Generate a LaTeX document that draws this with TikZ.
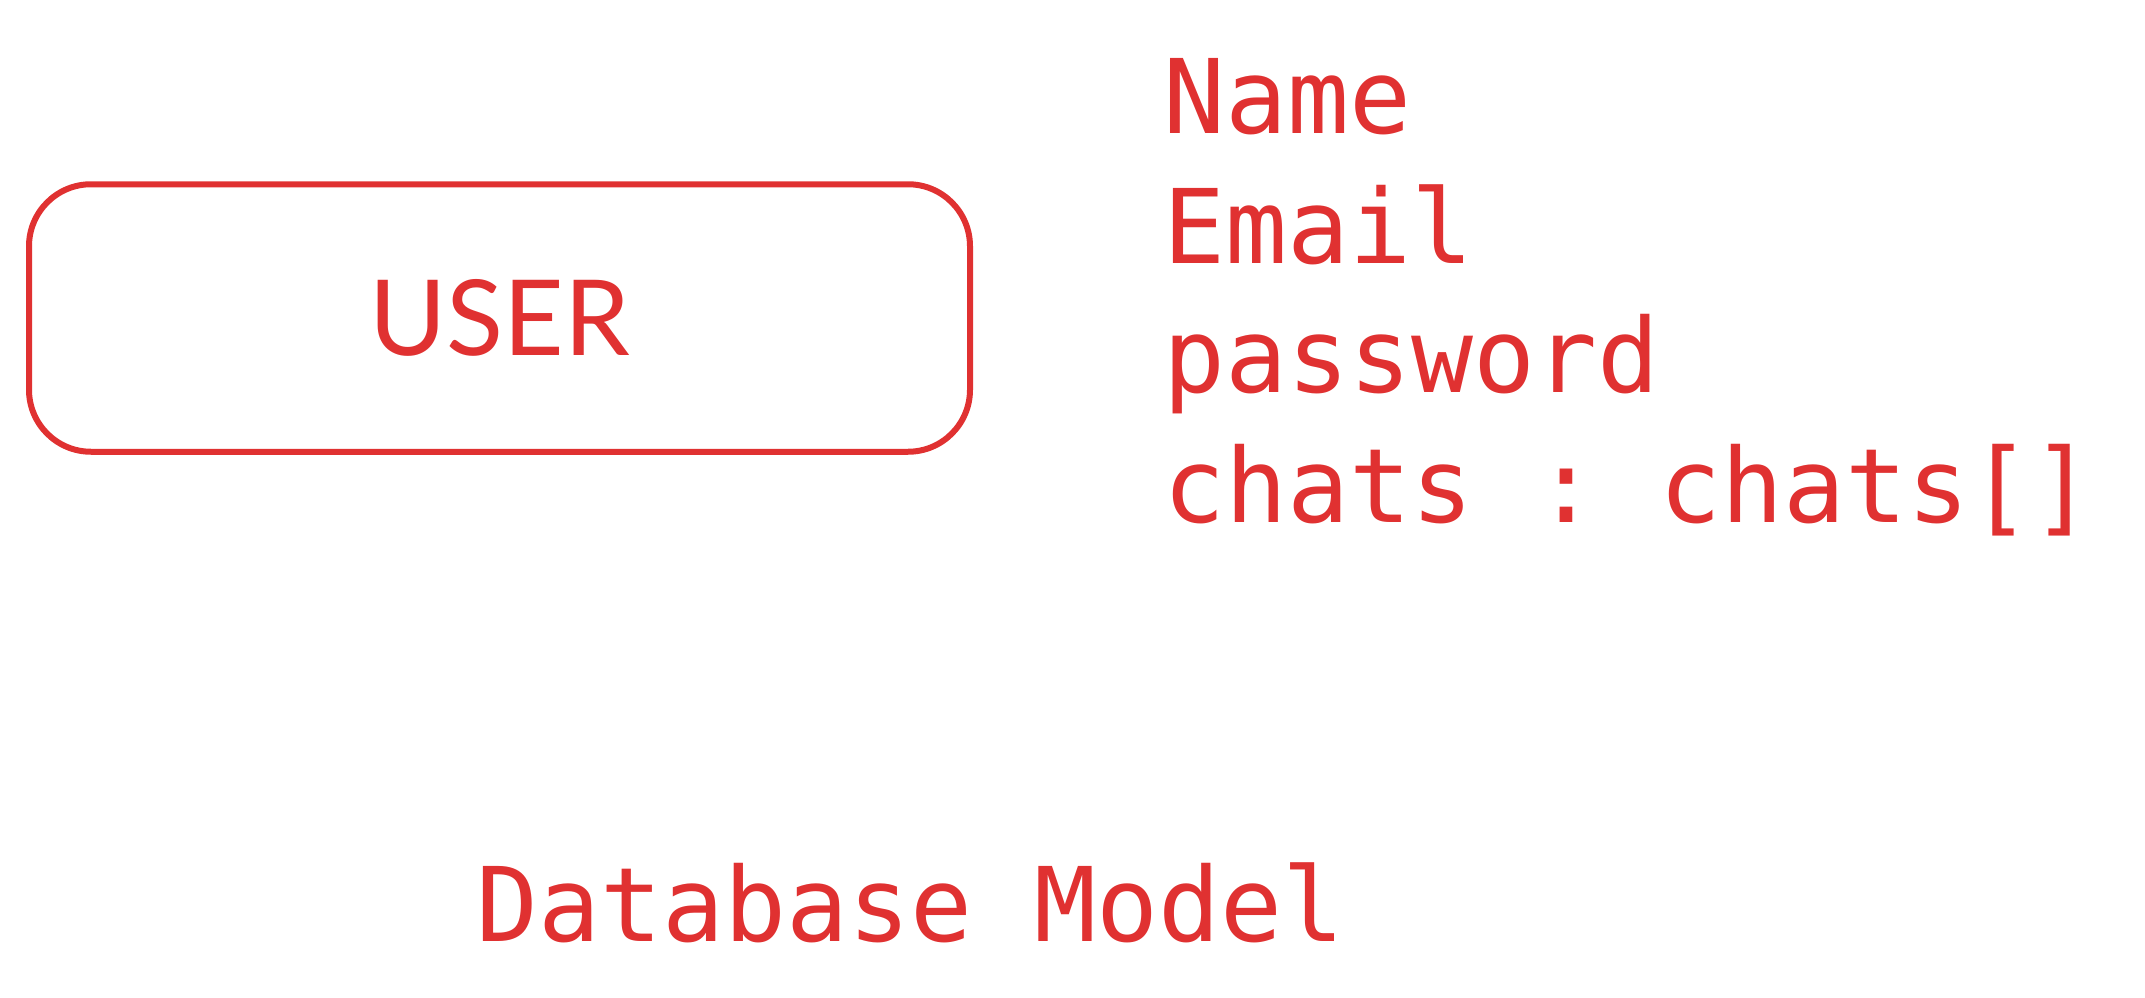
\documentclass[tikz,border=0pt]{standalone}
\usepackage{fontspec}
\setsansfont{Lato}
\setmonofont{DejaVu Sans Mono}
\definecolor{dbred}{HTML}{E03131}

\begin{document}
\begin{tikzpicture}[x=1pt, y=-1pt,
    entity/.style = {draw=dbred, line width=6pt, rounded corners=62pt,
        inner sep=0pt, minimum width=941pt, minimum height=267.5pt,
        text=dbred, font=\sffamily\fontsize{105}{126}\selectfont},
    field/.style = {anchor=base west, inner sep=0pt, text=dbred,
        font=\ttfamily\fontsize{103}{124}\selectfont}
]

        % Page frame.
        \useasboundingbox (0,0) rectangle (2145,998);

        % The entity box.
        \node[entity] (user) at (499.5, 318) {USER};

        % Its fields.
        \node[field] (name)     at (1163, 133) {Name};
        \node[field] (email)    at (1163, 263) {Email};
        \node[field] (password) at (1163, 392) {password};
        \node[field] (chats)    at (1163, 522) {chats : chats[]};

        % Caption.
        \node[field] (caption) at (476, 941) {Database Model};
    \end{tikzpicture}
\end{document}
